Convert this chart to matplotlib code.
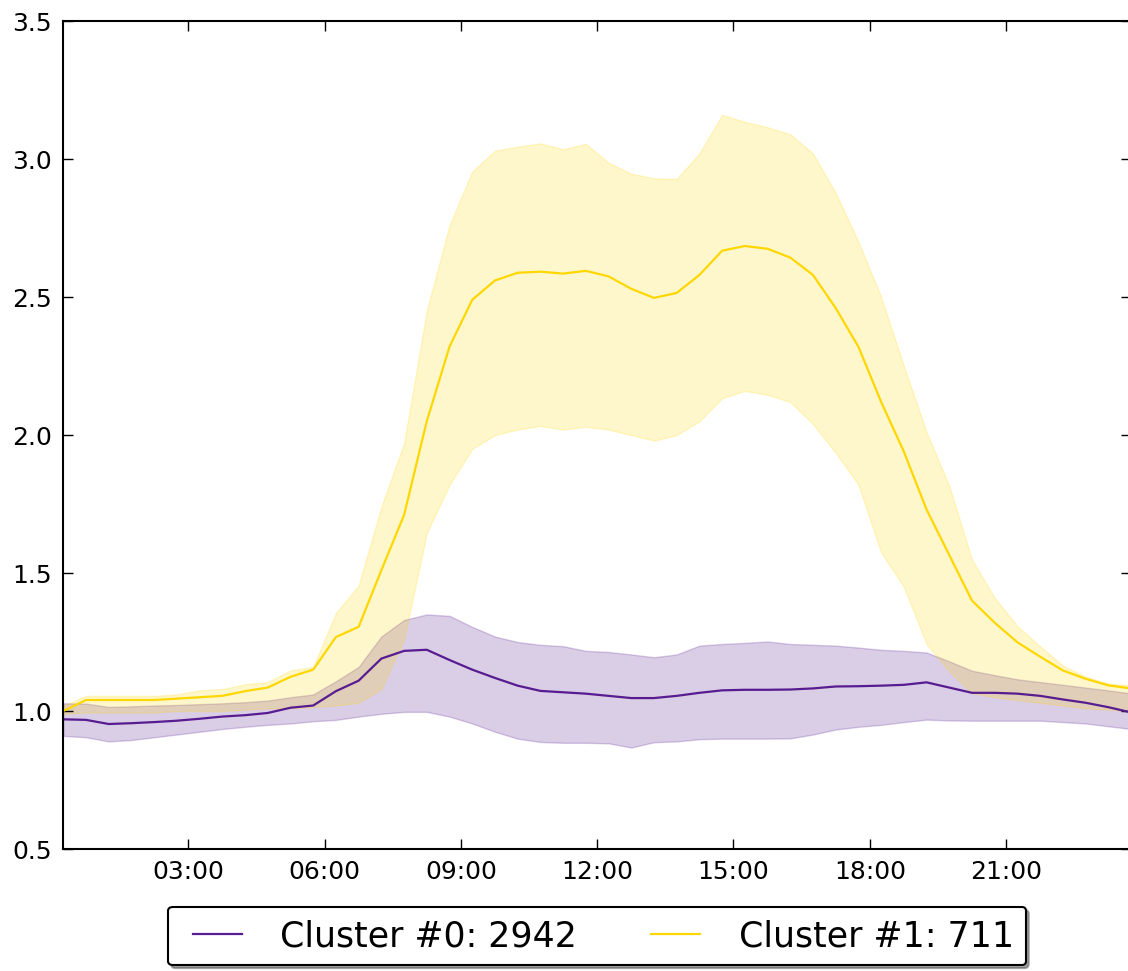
import matplotlib
matplotlib.use("Agg")
import matplotlib.pyplot as plt
from matplotlib.lines import Line2D
from matplotlib.legend_handler import HandlerLine2D

# time of day in hours, one reading every 30 minutes
hours = [0.25, 0.75, 1.25, 1.75, 2.25, 2.75, 3.25, 3.75, 4.25, 4.75, 5.25, 5.75,
         6.25, 6.75, 7.25, 7.75, 8.25, 8.75, 9.25, 9.75, 10.25, 10.75, 11.25, 11.75,
         12.25, 12.75, 13.25, 13.75, 14.25, 14.75, 15.25, 15.75, 16.25, 16.75, 17.25, 17.75,
         18.25, 18.75, 19.25, 19.75, 20.25, 20.75, 21.25, 21.75, 22.25, 22.75, 23.25, 23.75]

# Cluster #0
c0_mean = [0.970, 0.968, 0.953, 0.956, 0.960, 0.965, 0.972, 0.980, 0.985, 0.993, 1.012, 1.020,
           1.072, 1.110, 1.190, 1.218, 1.222, 1.185, 1.150, 1.120, 1.092, 1.073, 1.068, 1.063,
           1.055, 1.047, 1.047, 1.055, 1.066, 1.075, 1.077, 1.077, 1.078, 1.082, 1.089, 1.090,
           1.092, 1.095, 1.104, 1.085, 1.066, 1.066, 1.063, 1.055, 1.042, 1.030, 1.014, 0.995]
c0_hi = [1.028, 1.027, 1.015, 1.017, 1.020, 1.022, 1.025, 1.028, 1.032, 1.038, 1.050, 1.060,
         1.108, 1.160, 1.270, 1.330, 1.350, 1.345, 1.305, 1.270, 1.250, 1.240, 1.235, 1.218,
         1.214, 1.205, 1.195, 1.205, 1.237, 1.243, 1.247, 1.252, 1.243, 1.240, 1.237, 1.230,
         1.222, 1.218, 1.212, 1.180, 1.146, 1.130, 1.115, 1.105, 1.095, 1.085, 1.075, 1.064]
c0_lo = [0.910, 0.905, 0.890, 0.895, 0.905, 0.915, 0.925, 0.935, 0.943, 0.950, 0.955, 0.963,
         0.968, 0.980, 0.990, 0.997, 0.997, 0.980, 0.955, 0.925, 0.900, 0.888, 0.885, 0.885,
         0.883, 0.868, 0.887, 0.890, 0.898, 0.900, 0.900, 0.900, 0.901, 0.915, 0.933, 0.943,
         0.950, 0.960, 0.969, 0.966, 0.965, 0.965, 0.965, 0.965, 0.960, 0.955, 0.945, 0.935]

# Cluster #1
c1_mean = [1.000, 1.040, 1.040, 1.040, 1.040, 1.045, 1.050, 1.055, 1.072, 1.085, 1.124, 1.150,
           1.268, 1.305, 1.510, 1.710, 2.050, 2.320, 2.490, 2.560, 2.588, 2.592, 2.585, 2.595,
           2.575, 2.530, 2.497, 2.515, 2.580, 2.668, 2.685, 2.675, 2.643, 2.580, 2.460, 2.320,
           2.120, 1.940, 1.730, 1.565, 1.400, 1.320, 1.249, 1.197, 1.147, 1.117, 1.093, 1.082]
c1_hi = [1.020, 1.055, 1.055, 1.055, 1.055, 1.060, 1.075, 1.080, 1.097, 1.105, 1.147, 1.160,
         1.355, 1.455, 1.740, 1.970, 2.450, 2.760, 2.955, 3.030, 3.045, 3.057, 3.035, 3.055,
         2.987, 2.947, 2.930, 2.928, 3.020, 3.160, 3.135, 3.115, 3.090, 3.020, 2.877, 2.700,
         2.500, 2.250, 2.010, 1.815, 1.548, 1.410, 1.307, 1.234, 1.165, 1.124, 1.100, 1.092]
c1_lo = [0.990, 0.995, 0.995, 0.995, 0.995, 1.000, 1.000, 1.000, 1.005, 1.010, 1.010, 1.015,
         1.020, 1.030, 1.080, 1.260, 1.645, 1.820, 1.950, 2.000, 2.020, 2.033, 2.020, 2.030,
         2.020, 2.000, 1.980, 2.000, 2.050, 2.134, 2.160, 2.146, 2.120, 2.040, 1.936, 1.820,
         1.575, 1.450, 1.243, 1.145, 1.065, 1.050, 1.040, 1.030, 1.020, 1.010, 1.005, 1.000]

labels = ["Cluster #0: 2942", "Cluster #1: 711"]
tick_hours = [3, 6, 9, 12, 15, 18, 21]
tick_labels = ["03:00", "06:00", "09:00", "12:00", "15:00", "18:00", "21:00"]
y_ticks = [0.5, 1.0, 1.5, 2.0, 2.5, 3.0, 3.5]

purple = "#571C90"
gold = "#FFD700"

fig = plt.figure(figsize=(11.28, 9.71), dpi=100)
ax = fig.add_axes([0.0561, 0.1256, 0.9466, 0.8527])

ax.fill_between(hours, c0_lo, c0_hi, facecolor=purple, edgecolor=purple, alpha=0.22, linewidth=1)
ax.fill_between(hours, c1_lo, c1_hi, facecolor=gold, edgecolor=gold, alpha=0.2, linewidth=1)
ax.plot(hours, c0_mean, color=purple, linewidth=1.6, label=labels[0])
ax.plot(hours, c1_mean, color=gold, linewidth=1.6, label=labels[1])

ax.set_xlim(hours[0], hours[-1])
ax.set_ylim(0.5, 3.5)
ax.set_xticks(tick_hours)
ax.set_xticklabels(tick_labels)
ax.set_yticks(y_ticks)
ax.set_yticklabels(["%.1f" % v for v in y_ticks])
ax.tick_params(direction="in", length=7.5, width=1, labelsize=18, pad=8,
               top=True, right=True, colors="black")
for sp in ax.spines.values():
    sp.set_linewidth(1.5)
    sp.set_color("black")

leg = ax.legend(loc="upper center", bbox_to_anchor=(0.5, -0.07), ncol=2,
                fontsize=25, frameon=True, shadow=True, fancybox=True,
                handlelength=1.76, handletextpad=1.1, columnspacing=1.8,
                borderpad=0.35, borderaxespad=0,
                handler_map={Line2D: HandlerLine2D(xpad=0.35)})
frame = leg.get_frame()
frame.set_edgecolor("black")
frame.set_linewidth(1.5)
frame.set_alpha(1)
frame.set_boxstyle("round,pad=0,rounding_size=0.12")

fig.savefig("out.png", dpi=100, facecolor="white")
